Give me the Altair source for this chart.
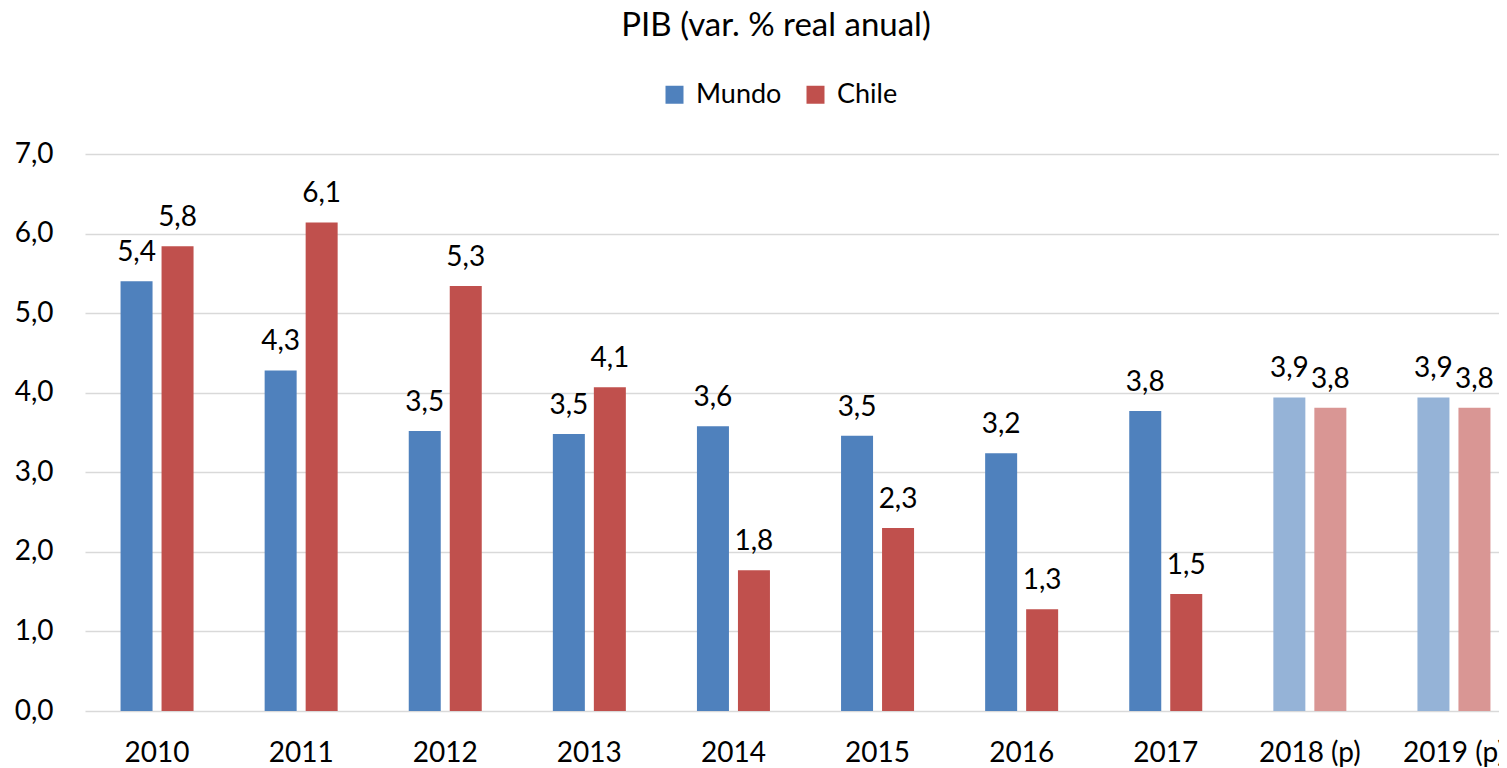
import altair as alt
import pandas as pd

years = ["2010", "2011", "2012", "2013", "2014", "2015", "2016", "2017", "2018 (p)", "2019 (p)"]
mundo = [5.40, 4.28, 3.52, 3.48, 3.58, 3.46, 3.24, 3.77, 3.94, 3.94]
chile = [5.84, 6.14, 5.34, 4.07, 1.77, 2.30, 1.28, 1.47, 3.81, 3.81]
projected = [False] * 8 + [True] * 2
series = ["Mundo", "Chile"]

rows = []
for i, y in enumerate(years):
    for s, vals in zip(series, [mundo, chile]):
        v = vals[i]
        rows.append({
            "year": y,
            "serie": s,
            "key": s + (" (p)" if projected[i] else ""),
            "value": v,
            "label": f"{v:.1f}".replace(".", ","),
        })
df = pd.DataFrame(rows)

FONT = "Lato"
color_domain = ["Mundo", "Chile", "Mundo (p)", "Chile (p)"]
color_range = ["#4F81BD", "#C0504D", "#95B3D7", "#D99694"]

x = alt.X("year:N", sort=years, title=None,
          scale=alt.Scale(domain=years, range=[0, 1441], paddingInner=0, paddingOuter=0),
          axis=alt.Axis(labelAngle=0, labelFontSize=28, labelFont=FONT, labelColor="#000000",
                        labelPadding=28, ticks=False, domain=False))
xo = alt.XOffset("serie:N", sort=series,
                 scale=alt.Scale(domain=series, paddingInner=0.2195, paddingOuter=0.867))
y = alt.Y("value:Q", title=None,
          scale=alt.Scale(domain=[0, 7], nice=False),
          axis=alt.Axis(values=[0, 1, 2, 3, 4, 5, 6, 7],
                        labelExpr="replace(format(datum.value, '.1f'), '.', ',')",
                        labelFontSize=28, labelFont=FONT, labelColor="#000000",
                        labelPadding=32, ticks=False, domain=False,
                        grid=True, gridColor="#D9D9D9", gridWidth=1.5))

base = alt.Chart(df)

bars = base.mark_bar().encode(
    x=x, xOffset=xo, y=y,
    color=alt.Color("key:N",
                    scale=alt.Scale(domain=color_domain, range=color_range),
                    legend=alt.Legend(values=["Mundo", "Chile"], title=None,
                                      orient="none", direction="horizontal",
                                      legendX=576, legendY=-73,
                                      symbolType="square", symbolSize=324,
                                      symbolStrokeWidth=0,
                                      labelFont=FONT, labelFontSize=27, labelColor="#000000",
                                      columnPadding=20, labelOffset=8)),
)

labels = base.mark_text(font=FONT, fontSize=28, color="#000000",
                        baseline="alphabetic", dy=-20).encode(
    x=x, xOffset=xo, y=y, text="label:N"
)

chart = (bars + labels).properties(
    width=1414, height=557,
    title=alt.Title("PIB (var. % real anual)", font=FONT, fontSize=33, fontWeight="normal",
                    color="#000000", anchor="middle", frame="group", offset=38, dx=-16),
    autosize=alt.AutoSizeParams(type="none"),
    padding={"left": 77, "top": 146, "right": 0, "bottom": 60},
).configure_view(stroke=None)

chart.save("out.html", embed_options={"renderer": "svg", "actions": False})
